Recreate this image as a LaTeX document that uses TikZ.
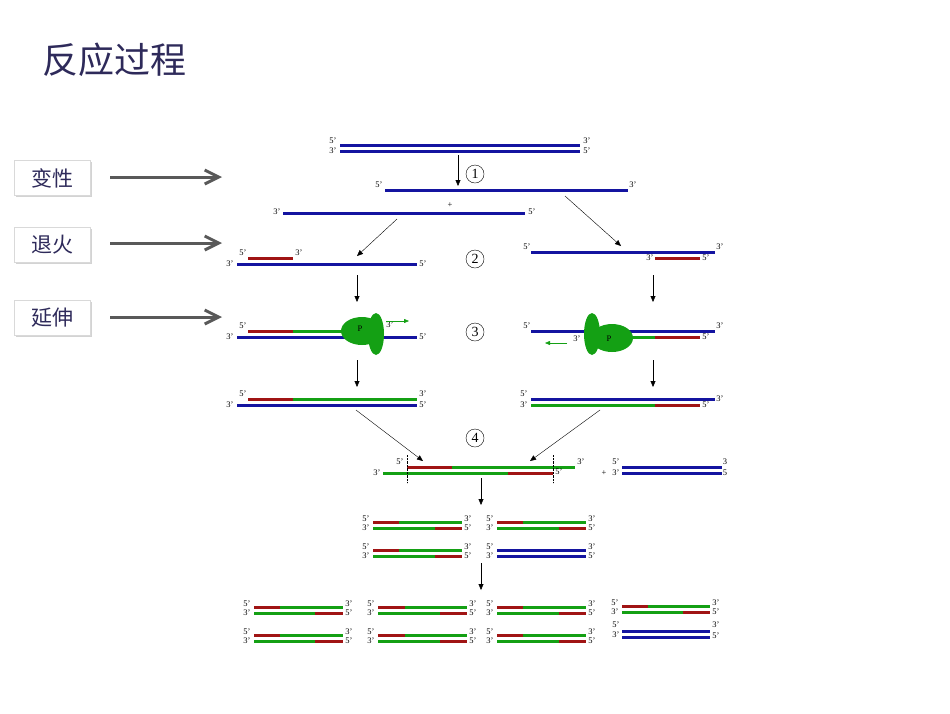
\documentclass[tikz,border=0pt]{standalone}
\usepackage{fontspec}
\setmainfont{Liberation Serif}
\newfontfamily\cjk{Noto Sans CJK SC}
\usetikzlibrary{arrows.meta,shadows}
\definecolor{dB}{HTML}{1414A0}
\definecolor{dR}{HTML}{A01414}
\definecolor{dG}{HTML}{14A014}
\definecolor{ttl}{HTML}{2E2A5A}
\newcommand\sBl[3]{\draw[st,dB] (#1,#3) -- (#2,#3);}
\newcommand\sRd[3]{\draw[st,dR] (#1,#3) -- (#2,#3);}
\newcommand\sGr[3]{\draw[st,dG] (#1,#3) -- (#2,#3);}
\newcommand\lb[3]{\node[lab] at (#1,#2) {#3};}
\newcommand\cir[3]{\node[circle,draw,inner sep=0pt,minimum size=18pt,font=\fontsize{14}{14}\selectfont] (#3) at (#1,#2) {#3};}
\newcommand\rg[5]{\sRd{#1}{#3}{#5}\sGr{#3}{#2}{#5}\sGr{#1}{#4}{#5+6}\sRd{#4}{#2}{#5+6}
 \lb{#1-7}{#5-3}{5'}\lb{#1-7}{#5+6}{3'}\lb{#2+6}{#5-3}{3'}\lb{#2+6}{#5+6}{5'}}
\newcommand\bb[3]{\sBl{#1}{#2}{#3}\sBl{#1}{#2}{#3+6}
 \lb{#1-7}{#3-3}{5'}\lb{#1-7}{#3+6}{3'}\lb{#2+6}{#3-3}{3'}\lb{#2+6}{#3+6}{5'}}
\begin{document}
\begin{tikzpicture}[x=1pt,y=-1pt,
 st/.style={line width=3pt},
 lab/.style={font=\fontsize{8.5}{8.5}\selectfont,inner sep=0pt},
 ar/.style={-{Triangle[length=6pt,width=5pt]},thin},
 big/.style={draw=gray!70!black,line width=3pt,-{Straight Barb[length=14pt,width=14pt]}},
 box/.style={draw=gray!30,fill=white,drop shadow={opacity=0.35,shadow xshift=1.5pt,shadow yshift=-1.5pt},minimum width=76pt,minimum height=35pt,font=\cjk\fontsize{21}{21}\selectfont,text=ttl}]
\useasboundingbox (0,0) rectangle (950,713);
\node[font=\cjk\fontsize{36}{36}\selectfont,text=ttl,anchor=west,inner sep=0pt] (title) at (42,60) {反应过程};
\node[box] (b1) at (52,178) {变性};
\node[box] (b2) at (52,245) {退火};
\node[box] (b3) at (52,318) {延伸};
\coordinate (a1) at (222,177);\coordinate (a2) at (222,243);\coordinate (a3) at (222,317);
\draw[big] (110,177) -- (a1);
\draw[big] (110,243) -- (a2);
\draw[big] (110,317) -- (a3);
% step 1
\sBl{340}{580}{145}\sBl{340}{580}{151}
\lb{333}{141}{5'}\lb{333}{151}{3'}\lb{587}{141}{3'}\lb{587}{151}{5'}
\draw[ar] (458,155) -- (458,186);
\cir{475}{174}{1}
\sBl{385}{628}{190}\lb{379}{185}{5'}\lb{633}{185}{3'}
\node[lab] (plus) at (450,205) {+};
\sBl{283}{525}{213}\lb{277}{212}{3'}\lb{532}{212}{5'}
\draw[ar] (397,219) -- (357,256);
\draw[ar] (565,196) -- (621,246);
% step 2
\cir{475}{259}{2}
\sRd{248}{293}{258}\lb{243}{253}{5'}\lb{299}{253}{3'}
\sBl{237}{417}{264}\lb{230}{264}{3'}\lb{423}{264}{5'}
\sBl{531}{715}{252}\lb{527}{247}{5'}\lb{720}{247}{3'}
\sRd{655}{700}{258}\lb{650}{258}{3'}\lb{706}{258}{5'}
\draw[ar] (357,275) -- (357,302);
\draw[ar] (653,275) -- (653,302);
% step 3
\cir{475}{332}{3}
\sRd{248}{293}{331}\sGr{293}{370}{331}\lb{243}{326}{5'}
\sBl{237}{417}{337}\lb{230}{337}{3'}\lb{423}{337}{5'}
\fill[dG] (362,331) ellipse (21pt and 14pt);
\fill[dG] (376,334) ellipse (8pt and 21pt);
\node[lab] (p1) at (360,329) {P};
\lb{390}{325}{3'}
\draw[dG,-{Triangle[length=5pt,width=4pt]}] (386,321) -- (409,321);
\sBl{531}{715}{331}\lb{527}{326}{5'}\lb{720}{326}{3'}
\sGr{600}{655}{337}\sRd{655}{700}{337}\lb{706}{337}{5'}
\fill[dG] (612,338) ellipse (21pt and 14pt);
\fill[dG] (592,334) ellipse (8pt and 21pt);
\node[lab] (p2) at (609,339) {P};
\lb{577}{339}{3'}
\draw[dG,-{Triangle[length=5pt,width=4pt]}] (567,343) -- (545,343);
\draw[ar] (357,360) -- (357,387);
\draw[ar] (653,360) -- (653,387);
% step 3 result
\sRd{248}{293}{399}\sGr{293}{417}{399}\sBl{237}{417}{405}
\lb{243}{394}{5'}\lb{230}{405}{3'}\lb{423}{394}{3'}\lb{423}{405}{5'}
\sBl{531}{715}{399}\sGr{531}{655}{405}\sRd{655}{700}{405}
\lb{524}{394}{5'}\lb{524}{405}{3'}\lb{720}{399}{3'}\lb{706}{405}{5'}
\draw[ar] (356,410) -- (423,461);
\draw[ar] (600,410) -- (530,461);
% step 4
\cir{475}{438}{4}
\sRd{407}{452}{467}\sGr{452}{575}{467}\sGr{383}{508}{473}\sRd{508}{553}{473}
\draw[densely dotted,thin] (407,455) -- (407,483);
\draw[densely dotted,thin] (553,455) -- (553,483);
\lb{400}{462}{5'}\lb{581}{462}{3'}\lb{377}{473}{3'}\lb{559}{472}{5'}
\node[lab] (plus2) at (604,473) {+};
\sBl{622}{722}{467}\sBl{622}{722}{473}
\lb{616}{462}{5'}\lb{616}{473}{3'}\lb{725}{462}{3}\lb{725}{473}{5}
\draw[ar] (481,478) -- (481,505);
% generation 2
\rg{373}{462}{399}{435}{522}
\rg{497}{586}{523}{559}{522}
\rg{373}{462}{399}{435}{550}
\bb{497}{586}{550}
\draw[ar] (481,563) -- (481,590);
% generation 3
\rg{254}{343}{280}{315}{607}
\rg{378}{467}{405}{440}{607}
\rg{497}{586}{523}{559}{607}
\rg{254}{343}{280}{315}{635}
\rg{378}{467}{405}{440}{635}
\rg{497}{586}{523}{559}{635}
\rg{622}{710}{648}{683}{606}
\sBl{622}{710}{631}\sBl{622}{710}{637}
\lb{616}{625}{5'}\lb{616}{635}{3'}\lb{716}{625}{3'}\lb{716}{636}{5'}
\end{tikzpicture}
\end{document}
